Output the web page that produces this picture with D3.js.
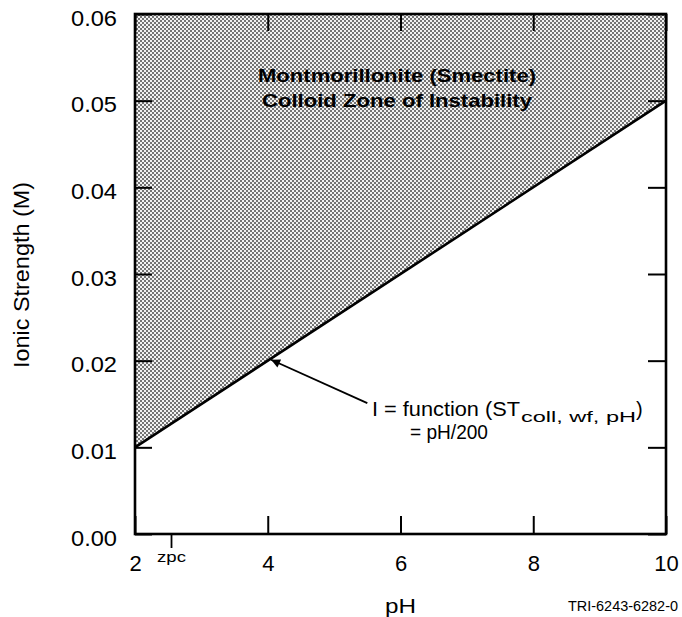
<!DOCTYPE html>
<html>
<head>
<meta charset="utf-8">
<script src="https://cdn.jsdelivr.net/npm/d3@7"></script>
<style>
  html, body { margin: 0; padding: 0; background: #fff; }
  svg { display: block; font-family: Arial, "Liberation Sans", Helvetica, sans-serif; }
</style>
</head>
<body>
<svg id="chart" width="682" height="617"></svg>
<script>
// ---- data ----
const xTicks = [2, 4, 6, 8, 10];
const yTicks = [0, 0.01, 0.02, 0.03, 0.04, 0.05, 0.06];
const yTickLabels = ["0.00", "0.01", "0.02", "0.03", "0.04", "0.05", "0.06"];
const boundaryPH = [2, 10];
const boundaryI = [0.01, 0.05];          // I = pH/200
const zpcPH = 2.55;
const arrowFrom = [5.5, 0.0151];
const arrowTo = [4.05, 0.0201];

// ---- layout ----
const svg = d3.select("#chart");
const L = 135, R = 666, T = 14, B = 534;
const x = d3.scaleLinear().domain([2, 10]).range([L, R]);
const y = d3.scaleLinear().domain([0, 0.06]).range([B, T]);

// stipple pattern
const defs = svg.append("defs");
const pat = defs.append("pattern").attr("id", "stip").attr("patternUnits", "userSpaceOnUse")
  .attr("width", 4).attr("height", 4);
pat.append("rect").attr("width", 4).attr("height", 4).attr("fill", "#f2f2f2");
pat.append("rect").attr("x", 0).attr("y", 0).attr("width", 2).attr("height", 2).attr("fill", "#747474");
pat.append("rect").attr("x", 2).attr("y", 2).attr("width", 2).attr("height", 2).attr("fill", "#747474");

defs.append("marker").attr("id", "arr").attr("viewBox", "0 0 10 10")
  .attr("refX", 10).attr("refY", 5).attr("markerWidth", 7).attr("markerHeight", 5)
  .attr("markerUnits", "strokeWidth").attr("orient", "auto")
  .append("path").attr("d", "M0,0 L10,5 L0,10 Z").attr("fill", "#000");

// shaded zone of instability (above the line)
const zone = [
  [boundaryPH[0], boundaryI[0]],
  [boundaryPH[1], boundaryI[1]],
  [boundaryPH[1], 0.06],
  [boundaryPH[0], 0.06]
];
svg.append("path")
  .attr("d", d3.line().x(d => x(d[0])).y(d => y(d[1]))(zone) + "Z")
  .attr("fill", "url(#stip)");

// boundary line
svg.append("path")
  .datum(boundaryPH.map((p, i) => [p, boundaryI[i]]))
  .attr("d", d3.line().x(d => x(d[0])).y(d => y(d[1])))
  .attr("fill", "none").attr("stroke", "#000").attr("stroke-width", 2.6);

// axes
const tickFont = 22;
const yAxis = svg.append("g").attr("transform", `translate(${L},0)`)
  .call(d3.axisLeft(y).tickValues(yTicks).tickFormat((d, i) => yTickLabels[i]).tickSize(-17).tickPadding(18));
yAxis.selectAll("text").attr("font-size", tickFont).attr("dy", "0.5em").attr("textLength", 46)
  .attr("lengthAdjust", "spacingAndGlyphs").attr("fill", "#000");

const xAxis = svg.append("g").attr("transform", `translate(0,${B})`)
  .call(d3.axisBottom(x).tickValues(xTicks).tickFormat(d3.format("d")).tickSize(-18).tickPadding(21));
xAxis.selectAll("text").attr("font-size", tickFont).attr("fill", "#000");

svg.append("g").attr("transform", `translate(${R},0)`)
  .call(d3.axisRight(y).tickValues(yTicks).tickSize(-18).tickFormat(""));
svg.append("g").attr("transform", `translate(0,${T})`)
  .call(d3.axisTop(x).tickValues(xTicks).tickSize(-17).tickFormat(""));

svg.selectAll(".domain").remove();
svg.selectAll(".tick line").attr("stroke", "#000").attr("stroke-width", 2);

// frame
svg.append("rect").attr("x", L).attr("y", T).attr("width", R - L).attr("height", B - T)
  .attr("fill", "none").attr("stroke", "#000").attr("stroke-width", 2.6);

// zpc tick
svg.append("line").attr("x1", x(zpcPH)).attr("x2", x(zpcPH)).attr("y1", B).attr("y2", B + 14)
  .attr("stroke", "#000").attr("stroke-width", 1.8);
svg.append("text").attr("x", x(zpcPH)).attr("y", 562).attr("text-anchor", "middle")
  .attr("font-size", 14).attr("textLength", 29).attr("lengthAdjust", "spacingAndGlyphs").text("zpc");

// axis titles
svg.append("text").attr("transform", "translate(29,275) rotate(-90)").attr("text-anchor", "middle")
  .attr("font-size", 22).attr("textLength", 186).attr("lengthAdjust", "spacingAndGlyphs")
  .text("Ionic Strength (M)");
svg.append("text").attr("x", 385).attr("y", 613).attr("font-size", 20)
  .attr("textLength", 31).attr("lengthAdjust", "spacingAndGlyphs").text("pH");
svg.append("text").attr("x", 568).attr("y", 611).attr("font-size", 14)
  .attr("textLength", 110).attr("lengthAdjust", "spacingAndGlyphs").text("TRI-6243-6282-0");

// zone label
svg.append("text").attr("x", 258).attr("y", 82).attr("font-size", 19).attr("font-weight", "bold")
  .attr("textLength", 278).attr("lengthAdjust", "spacingAndGlyphs")
  .text("Montmorillonite (Smectite)");
svg.append("text").attr("x", 262).attr("y", 107).attr("font-size", 19).attr("font-weight", "bold")
  .attr("textLength", 270).attr("lengthAdjust", "spacingAndGlyphs")
  .text("Colloid Zone of Instability");

// annotation arrow
svg.append("line")
  .attr("x1", x(arrowFrom[0])).attr("y1", y(arrowFrom[1]))
  .attr("x2", x(arrowTo[0])).attr("y2", y(arrowTo[1]))
  .attr("stroke", "#000").attr("stroke-width", 1.8).attr("marker-end", "url(#arr)");

// annotation formula
svg.append("text").attr("x", 372).attr("y", 416).attr("font-size", 21)
  .attr("textLength", 148).attr("lengthAdjust", "spacingAndGlyphs").text("I = function (ST");
svg.append("text").attr("x", 521).attr("y", 422).attr("font-size", 14)
  .attr("textLength", 115).attr("lengthAdjust", "spacingAndGlyphs").text("coll, wf, pH");
svg.append("text").attr("x", 636).attr("y", 416).attr("font-size", 20).text(")");
svg.append("text").attr("x", 410).attr("y", 439).attr("font-size", 21)
  .attr("textLength", 78).attr("lengthAdjust", "spacingAndGlyphs").text("= pH/200");
</script>
</body>
</html>
